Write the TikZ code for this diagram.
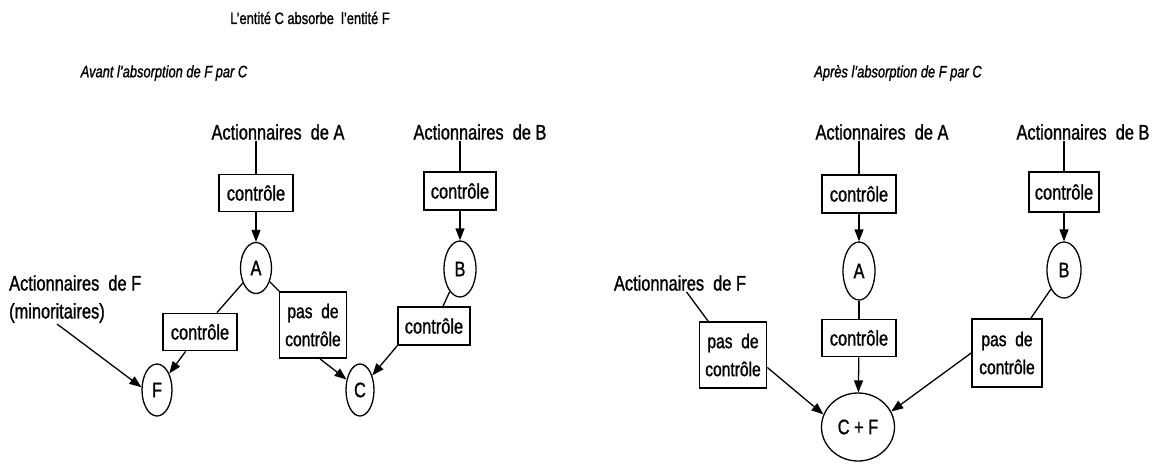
\documentclass[tikz,border=0pt]{standalone}
\usepackage{fontspec}
\setmainfont{Liberation Sans}[FakeStretch=0.78,FakeBold=1.2]
\usetikzlibrary{shapes.geometric,arrows.meta}
\begin{document}
\begin{tikzpicture}[x=1pt,y=-1pt,
  lbl/.style={font=\fontsize{21}{24}\selectfont, inner sep=1pt},
  ttl/.style={font=\fontsize{16.5}{19}\selectfont, inner sep=0pt},
  ittl/.style={font=\fontsize{16.5}{19}\selectfont\itshape, inner sep=0pt},
  ctl/.style={draw, line width=1.7pt, font=\fontsize{21}{24}\selectfont, inner sep=0pt, minimum width=74pt, minimum height=37pt},
  pas/.style={draw, line width=1.7pt, font=\fontsize{20}{28}\selectfont, inner sep=0pt, align=center, minimum width=67pt, minimum height=66pt},
  ent/.style={draw, ellipse, line width=1.3pt, font=\fontsize{21}{24}\selectfont, inner sep=0pt},
  arr/.style={line width=1.3pt, -{Triangle[length=12pt,width=9pt]}},
  lin/.style={line width=1.3pt}
]
\useasboundingbox (0,0) rectangle (1159,469);

% titles
\node[ttl] (title) at (310,18) {L'entité C absorbe\ \ l'entité F};
\node[ittl] (avant) at (164,73) {Avant l'absorption de F par C};
\node[ittl] (apres) at (898,73) {Après l'absorption de F par C};

% ---------- left diagram ----------
\node[lbl] (sA) at (278,132) {Actionnaires\ \ de A};
\node[ctl] (cA) at (256,193) {contrôle};
\node[ent, minimum width=31pt, minimum height=51pt] (A) at (256,268) {A};
\node[lbl, anchor=west] (sF1) at (8,283) {Actionnaires\ \ de F};
\node[lbl, anchor=west] (sF2) at (8,313) {(minoritaires)};
\node[ctl] (cF) at (200,332) {contrôle};
\node[ent, minimum width=30pt, minimum height=52pt] (F) at (157,390) {F};
\node[pas] (pA) at (313,325) {pas\ \ de\\contrôle};
\node[ent, minimum width=28pt, minimum height=52pt] (C) at (360,390) {C};
\node[lbl] (sB) at (480,132) {Actionnaires\ \ de B};
\node[ctl, minimum width=72pt, minimum height=38pt] (cB) at (460,191) {contrôle};
\node[ent, minimum width=32pt, minimum height=56pt] (B) at (460,269) {B};
\node[ctl, minimum width=72pt, minimum height=38pt] (cB2) at (434,326) {contrôle};

\draw[lin] (cA.north |- sA.south) -- (cA.north);
\draw[arr] (cA) -- (A);
\draw[lin] (A) -- (cF);
\draw[arr] (cF) -- (F);
\draw[arr] (sF2.south) -- (F.170);
\draw[lin] (A) -- (pA);
\draw[arr] ([xshift=7pt]pA.south) -- (C);
\draw[lin] (cB.north |- sB.south) -- (cB.north);
\draw[arr] (cB) -- (B);
\draw[lin] (B) -- (cB2);
\draw[arr] (cB2.south west) -- (C);

% ---------- right diagram ----------
\node[lbl] (sA2) at (882,132) {Actionnaires\ \ de A};
\node[ctl, minimum height=38pt] (cA2) at (859,194) {contrôle};
\node[ent, minimum width=32pt, minimum height=58pt] (A2) at (859,271) {A};
\node[ctl] (cA3) at (859,338) {contrôle};
\node[ent, minimum width=73pt, minimum height=68pt] (CF) at (858,427) {C + F};
\node[lbl] (sF3) at (680,283) {Actionnaires\ \ de F};
\node[pas] (pF) at (733,355) {pas\ \ de\\contrôle};
\node[lbl] (sB2) at (1083,132) {Actionnaires\ \ de B};
\node[ctl, minimum width=70pt, minimum height=40pt] (cB3) at (1064,192) {contrôle};
\node[ent, minimum width=34pt, minimum height=56pt] (B2) at (1064,270) {B};
\node[pas, minimum width=70pt, minimum height=68pt] (pB) at (1007,353) {pas\ \ de\\contrôle};

\draw[lin] (cA2.north |- sA2.south) -- (cA2.north);
\draw[arr] (cA2) -- (A2);
\draw[lin] (A2) -- (cA3);
\draw[arr] (cA3) -- (CF);
\draw[lin] (sF3) -- (pF);
\draw[arr] (pF.-20) -- (CF.160);
\draw[lin] (cB3.north |- sB2.south) -- (cB3.north);
\draw[arr] (cB3) -- (B2);
\draw[lin] (B2) -- (pB);
\draw[arr] (pB.west) -- (CF.25);
\end{tikzpicture}
\end{document}
